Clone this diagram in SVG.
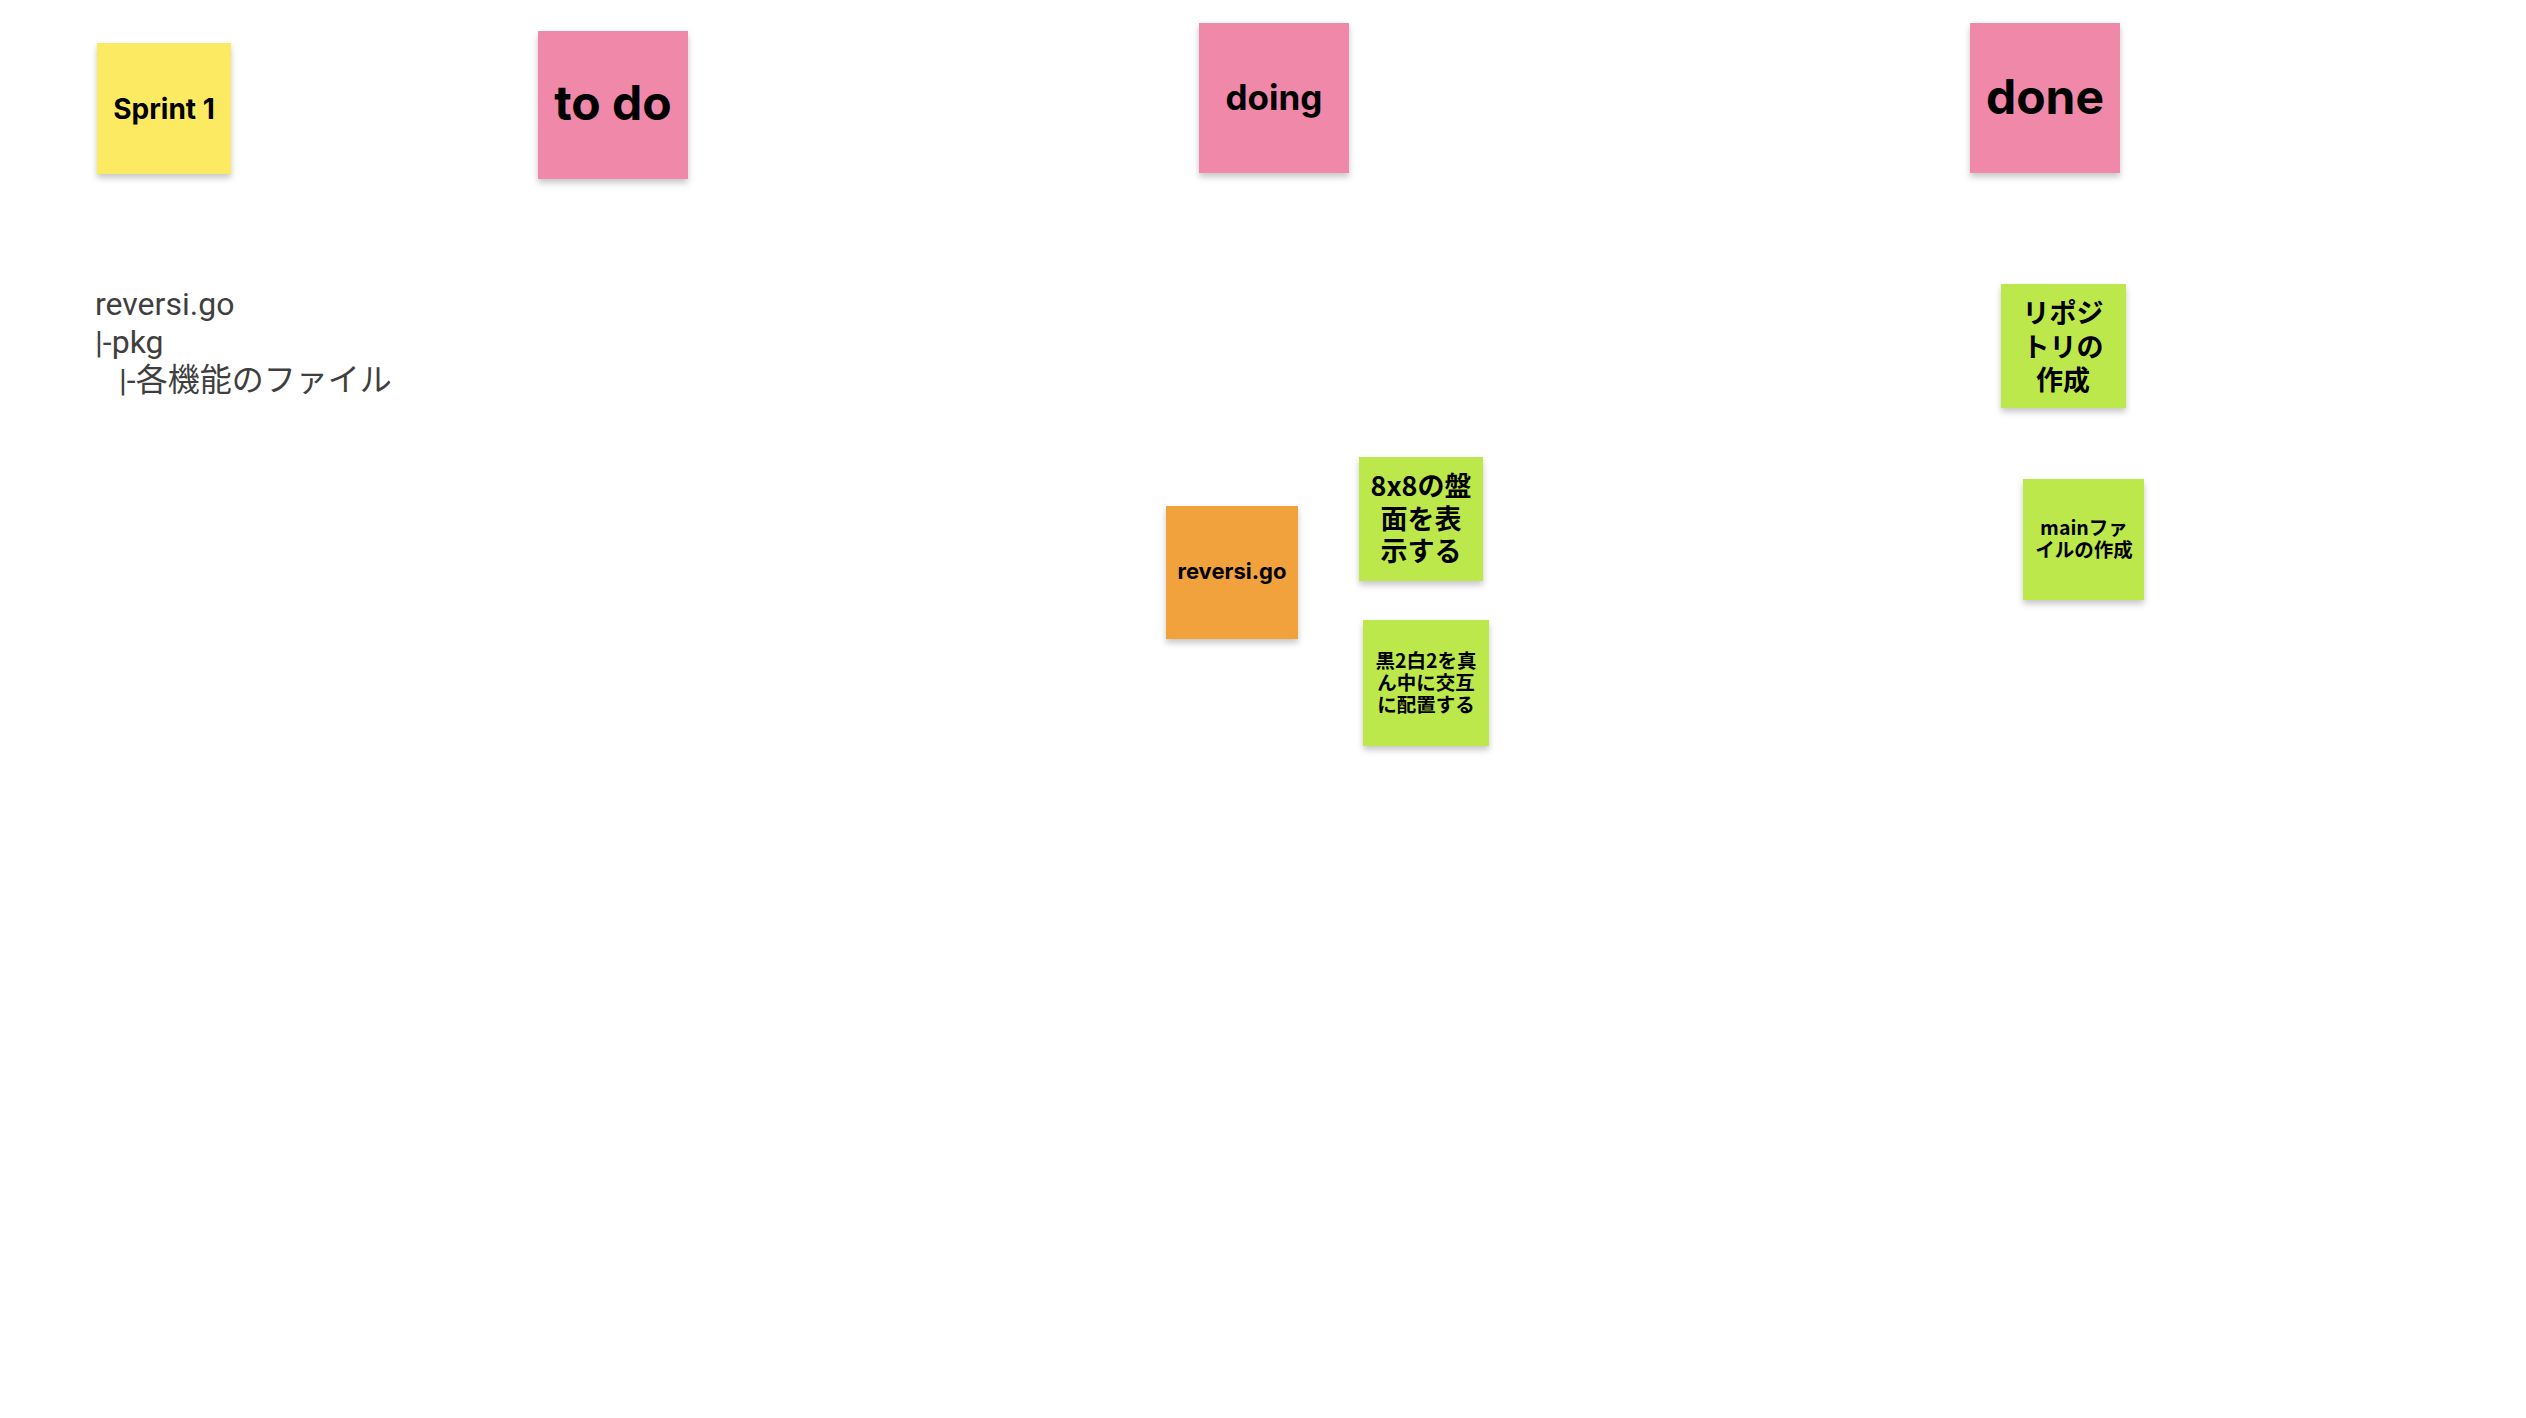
<svg xmlns="http://www.w3.org/2000/svg" width="2526" height="1418" viewBox="0 0 2526 1418">
<defs>
<filter id="sh" x="-20%" y="-20%" width="140%" height="150%">
<feDropShadow dx="0" dy="4" stdDeviation="3" flood-color="#000" flood-opacity="0.22"/>
</filter>
</defs>
<style>
.note{filter:url(#sh)}
.y{fill:#FCEA64}
.p{fill:#EF88A9}
.o{fill:#F1A23C}
.g{fill:#BDE84B}
.t{font-family:"Inter","Noto Sans CJK JP","Noto Sans",sans-serif;font-weight:700;fill:#000;text-anchor:middle}
.j{font-family:"Noto Sans CJK JP","Inter",sans-serif;font-weight:700;fill:#000;text-anchor:middle}
.plain{font-family:"Roboto","Noto Sans CJK JP",sans-serif;font-size:32px;fill:#3f3f3f}
</style>
<rect width="2526" height="1418" fill="#fff"/>
<g id="connectors"/>
<g id="sprint1">
<rect class="note y" x="97" y="43" width="134" height="131"/>
<text class="t" x="164" y="119" font-size="28">Sprint 1</text>
</g>
<g id="todo">
<rect class="note p" x="538" y="31" width="150" height="148"/>
<text class="t" x="613" y="120" font-size="48">to do</text>
</g>
<g id="doing">
<rect class="note p" x="1199" y="23" width="150" height="150"/>
<text class="t" x="1274" y="110" font-size="35">doing</text>
</g>
<g id="done">
<rect class="note p" x="1970" y="23" width="150" height="150"/>
<text class="t" x="2045" y="114" font-size="48">done</text>
</g>
<g id="structure">
<text class="plain" x="95" y="315">reversi.go</text>
<text class="plain" x="95" y="353">|-pkg</text>
<text class="plain" x="119" y="391">|-各機能のファイル</text>
</g>
<g id="reversi">
<rect class="note o" x="1166" y="506" width="132" height="133"/>
<text class="t" x="1232" y="579" font-size="22">reversi.go</text>
</g>
<g id="board">
<rect class="note g" x="1359" y="457" width="124" height="124"/>
<text class="j" font-size="27"><tspan x="1421" y="496">8x8の盤</tspan><tspan x="1421" y="529">面を表</tspan><tspan x="1421" y="561">示する</tspan></text>
</g>
<g id="place">
<rect class="note g" x="1363" y="620" width="126" height="126"/>
<text class="j" font-size="19.5"><tspan x="1426" y="668">黒2白2を真</tspan><tspan x="1426" y="690">ん中に交互</tspan><tspan x="1426" y="712">に配置する</tspan></text>
</g>
<g id="repo">
<rect class="note g" x="2001" y="284" width="125" height="124"/>
<text class="j" font-size="27"><tspan x="2063" y="323">リポジ</tspan><tspan x="2063" y="357">トリの</tspan><tspan x="2063" y="390">作成</tspan></text>
</g>
<g id="mainfile">
<rect class="note g" x="2023" y="479" width="121" height="121"/>
<text class="j" font-size="19.5"><tspan x="2084" y="535">mainファ</tspan><tspan x="2084" y="557">イルの作成</tspan></text>
</g>
</svg>
